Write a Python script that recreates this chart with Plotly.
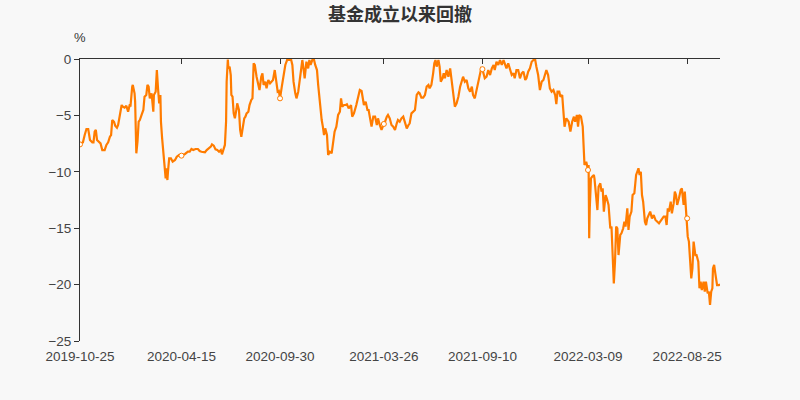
import pandas as pd
import plotly.graph_objects as go

start_date = "2019-10-25"
end_date = "2022-10-20"

days_since_start = [
    0, 5, 8, 11, 14, 17, 21, 23, 25, 27, 29, 32, 35, 38, 42, 45, 48, 51, 53, 55,
    58, 60, 63, 65, 68, 71, 73, 76, 79, 82, 85, 86, 89, 90, 93, 94, 96, 98, 100, 102,
    105, 108, 110, 113, 115, 117, 119, 122, 125, 126, 129, 131, 133, 135, 137, 138, 140, 143, 144, 146,
    147, 149, 150, 152, 155, 158, 162, 165, 169, 173, 179, 184, 187, 190, 193, 197, 201, 204, 207, 210,
    213, 216, 220, 223, 225, 228, 231, 234, 237, 240, 242, 245, 247, 249, 250, 252, 253, 255, 257, 258,
    260, 262, 264, 267, 268, 271, 273, 275, 276, 280, 282, 284, 287, 289, 292, 294, 296, 298, 301, 304,
    306, 309, 311, 313, 316, 318, 321, 324, 326, 329, 332, 335, 337, 339, 341, 344, 347, 350, 353, 357,
    360, 362, 364, 367, 369, 372, 375, 377, 379, 381, 383, 386, 389, 391, 393, 396, 399, 401, 404, 406,
    409, 412, 414, 416, 418, 421, 423, 426, 429, 431, 434, 437, 440, 443, 445, 447, 450, 453, 455, 458,
    462, 464, 467, 471, 474, 477, 480, 482, 484, 487, 490, 492, 495, 497, 500, 503, 506, 508, 511, 514,
    518, 520, 523, 525, 528, 531, 534, 537, 540, 542, 545, 548, 551, 554, 557, 560, 562, 565, 568, 571,
    574, 577, 579, 582, 585, 588, 591, 594, 596, 599, 602, 604, 606, 608, 611, 613, 615, 618, 620, 622,
    625, 628, 631, 633, 636, 639, 642, 645, 648, 650, 653, 656, 659, 662, 665, 668, 670, 673, 676, 679,
    682, 684, 686, 690, 693, 696, 699, 702, 705, 707, 710, 713, 716, 719, 722, 724, 727, 730, 733, 736,
    739, 741, 744, 747, 750, 753, 756, 759, 761, 764, 767, 770, 773, 776, 778, 781, 784, 787, 790, 793,
    795, 798, 801, 804, 807, 810, 812, 814, 817, 819, 822, 824, 826, 829, 831, 833, 836, 839, 842, 844,
    847, 849, 851, 854, 857, 859, 860, 863, 866, 867, 868, 869, 871, 873, 876, 877, 880, 882, 884, 887,
    889, 891, 893, 896, 898, 901, 904, 906, 908, 910, 912, 914, 916, 918, 921, 923, 926, 928, 930, 933,
    935, 937, 940, 942, 945, 948, 951, 952, 954, 956, 958, 960, 963, 965, 967, 970, 972, 975, 978, 981,
    984, 987, 989, 992, 995, 998, 1000, 1002, 1004, 1007, 1009, 1012, 1014, 1016, 1018, 1021, 1024, 1026, 1029, 1031,
    1033, 1035, 1036, 1038, 1040, 1042, 1044, 1046, 1049, 1051, 1054, 1056, 1058, 1060, 1063, 1065, 1067, 1070, 1072, 1074,
    1076, 1078, 1079, 1081, 1083, 1086, 1089, 1091,
]

drawdown = [
    -7.57, -7.39, -6.74, -6.21, -6.21, -7.18, -7.39, -7.39, -6.44, -6.29, -7.18, -7.33, -7.48, -8.07, -8.07, -7.62, -7.39, -6.89, -6.74, -5.41,
    -5.56, -5.91, -6.09, -5.85, -5.11, -4.08, -4.23, -4.31, -4.14, -4.67, -4.02, -4.23, -2.45, -2.30, -3.04, -3.78, -8.36, -7.33, -5.56, -5.41,
    -4.96, -4.52, -3.34, -3.19, -2.30, -2.45, -3.49, -3.04, -4.67, -3.19, -2.90, -0.98, -2.60, -3.93, -3.19, -5.56, -7.03, -8.51, -9.40, -10.58,
    -9.69, -10.73, -9.99, -8.81, -8.81, -9.10, -8.95, -8.66, -8.51, -8.57, -8.42, -8.22, -8.22, -7.98, -8.07, -7.98, -7.98, -8.16, -8.22, -8.27,
    -8.27, -8.07, -7.92, -7.77, -7.57, -7.68, -8.01, -8.07, -8.22, -8.07, -8.45, -7.92, -7.62, -5.56, -2.01, -0.05, -0.83, -0.68, -1.42, -3.19,
    -3.34, -4.82, -5.26, -4.37, -3.93, -4.52, -6.29, -6.89, -6.59, -5.26, -5.11, -4.82, -4.67, -4.08, -3.63, -3.49, -0.38, -0.53, -1.57, -2.30,
    -2.75, -1.57, -1.27, -2.30, -2.01, -2.60, -1.86, -2.16, -2.01, -1.86, -0.98, -2.01, -2.90, -2.84, -3.49, -2.45, -1.42, -0.53, -0.09, -0.09,
    -0.09, -0.53, -2.01, -3.04, -3.49, -2.90, -1.71, -0.53, -0.09, -0.83, -1.71, -0.24, -0.83, -0.09, -0.53, -0.09, -0.09, -0.53, -0.98, -2.30,
    -4.08, -5.41, -6.00, -6.74, -6.15, -6.74, -8.51, -8.22, -8.36, -7.62, -6.44, -6.00, -4.96, -4.67, -3.49, -4.23, -4.08, -4.08, -4.02, -4.37,
    -4.08, -5.11, -4.82, -4.08, -3.49, -2.75, -2.84, -3.63, -4.08, -3.78, -4.52, -4.52, -5.56, -6.00, -5.11, -5.11, -5.85, -5.26, -5.85, -6.29,
    -5.76, -5.56, -5.11, -4.96, -5.26, -5.85, -6.00, -6.29, -5.70, -5.41, -5.56, -5.26, -5.11, -5.70, -6.15, -5.85, -5.70, -4.82, -4.67, -4.52,
    -3.19, -2.96, -3.04, -3.43, -3.43, -3.19, -2.45, -2.30, -2.60, -2.30, -1.27, -0.38, -0.09, -0.68, -0.09, -0.68, -2.01, -1.71, -1.27, -1.71,
    -0.98, -1.57, -0.83, -1.71, -2.60, -4.23, -3.93, -3.34, -2.45, -2.16, -1.57, -2.01, -1.86, -2.60, -2.90, -2.45, -3.19, -3.49, -2.75, -2.01,
    -1.27, -0.83, -0.90, -1.71, -1.57, -0.98, -1.42, -0.83, -0.53, -0.98, -0.24, -0.53, -0.09, -0.53, -0.09, -0.38, -0.83, -0.38, -0.83, -1.42,
    -1.27, -1.71, -0.98, -0.98, -1.71, -1.27, -1.12, -1.86, -1.71, -1.12, -0.83, -0.24, -0.09, -0.09, -0.68, -1.42, -2.75, -2.01, -1.86, -1.42,
    -0.98, -1.42, -2.60, -2.90, -2.75, -3.20, -4.00, -2.90, -2.90, -3.34, -3.19, -4.60, -6.00, -5.26, -5.41, -5.56, -6.44, -5.56, -5.11, -5.56,
    -4.96, -6.00, -4.96, -5.11, -6.00, -8.22, -9.40, -9.10, -9.84, -9.40, -15.90, -13.24, -10.58, -10.43, -10.28, -10.58, -12.35, -13.39, -11.32, -11.02,
    -11.76, -11.47, -13.53, -12.06, -12.35, -12.94, -15.01, -14.86, -17.38, -19.89, -17.97, -14.86, -15.01, -17.38, -15.60, -15.45, -15.01, -14.42, -14.86, -13.24,
    -15.16, -13.98, -13.53, -12.06, -11.91, -10.28, -9.84, -9.69, -10.28, -9.99, -12.06, -12.65, -14.42, -14.72, -14.13, -13.83, -13.53, -14.13, -13.83, -14.27,
    -14.42, -14.57, -14.42, -14.13, -13.98, -13.98, -14.72, -13.24, -13.53, -12.65, -13.68, -12.80, -11.76, -12.06, -12.94, -12.35, -11.61, -11.47, -12.94, -11.76,
    -13.50, -14.13, -15.75, -16.19, -18.26, -19.45, -18.56, -16.19, -17.38, -17.38, -17.97, -20.33, -19.74, -20.48, -19.74, -20.63, -19.74, -20.77, -20.63, -21.81,
    -20.63, -20.33, -18.56, -18.26, -19.00, -20.04, -20.04, -19.98,
]

tick_dates = ["2019-10-25", "2020-04-15", "2020-09-30", "2021-03-26",
              "2021-09-10", "2022-03-09", "2022-08-25"]
y_ticks = [0, -5, -10, -15, -20, -25]

dates = pd.Timestamp(start_date) + pd.to_timedelta(days_since_start, unit="D")
series = pd.Series(drawdown, index=dates)
marker_idx = pd.to_datetime(tick_dates)
marker_vals = series.reindex(marker_idx).tolist()

line_color = "#ff7c00"
axis_color = "#333333"
font_family = "Liberation Sans, Noto Sans CJK SC, sans-serif"

fig = go.Figure()
fig.add_trace(go.Scatter(
    x=dates, y=drawdown, mode="lines",
    line=dict(color=line_color, width=2.2),
    hoverinfo="skip", showlegend=False,
))
fig.add_trace(go.Scatter(
    x=marker_idx, y=marker_vals, mode="markers",
    marker=dict(size=5, color="white", line=dict(color=line_color, width=1)),
    showlegend=False, hoverinfo="skip",
))
fig.add_trace(go.Scatter(x=[], y=[], xaxis="x2", showlegend=False))

xrange = [start_date, end_date]
fig.update_layout(
    width=800, height=400,
    margin=dict(l=80, r=80, t=59, b=59),
    paper_bgcolor="#f8f8f8", plot_bgcolor="#f8f8f8",
    font=dict(family=font_family, color=axis_color, size=13),
    title=dict(text="<b>基金成立以来回撤</b>", x=0.5, xanchor="center",
               y=0.963, yanchor="middle",
               font=dict(size=18, color="#333333",
                         family="Noto Sans CJK SC, sans-serif")),
    xaxis=dict(
        type="date", range=xrange, showgrid=False, zeroline=False,
        showline=False, ticks="", ticklabelstandoff=5,
        tickmode="array", tickvals=tick_dates, ticktext=tick_dates,
        tickfont=dict(size=13.5, color="#444444"),
    ),
    xaxis2=dict(
        type="date", range=xrange, overlaying="x", side="top", anchor="y",
        showgrid=False, zeroline=False, showline=True, linecolor=axis_color,
        linewidth=1, ticks="inside", ticklen=5, tickcolor=axis_color,
        tickmode="array", tickvals=tick_dates + [end_date],
        showticklabels=False,
    ),
    yaxis=dict(
        range=[-25, 0], showgrid=False, zeroline=False,
        showline=True, linecolor=axis_color, linewidth=1,
        ticks="outside", ticklen=5, tickcolor=axis_color,
        tickmode="array", tickvals=y_ticks,
        tickfont=dict(size=13.5, color="#444444"),
    ),
    annotations=[dict(
        text="%", xref="paper", yref="paper", x=0, y=1, xanchor="center",
        yanchor="middle", yshift=22, showarrow=False,
        font=dict(size=13, color="#333333"),
    )],
)

fig.write_html("out.html")
